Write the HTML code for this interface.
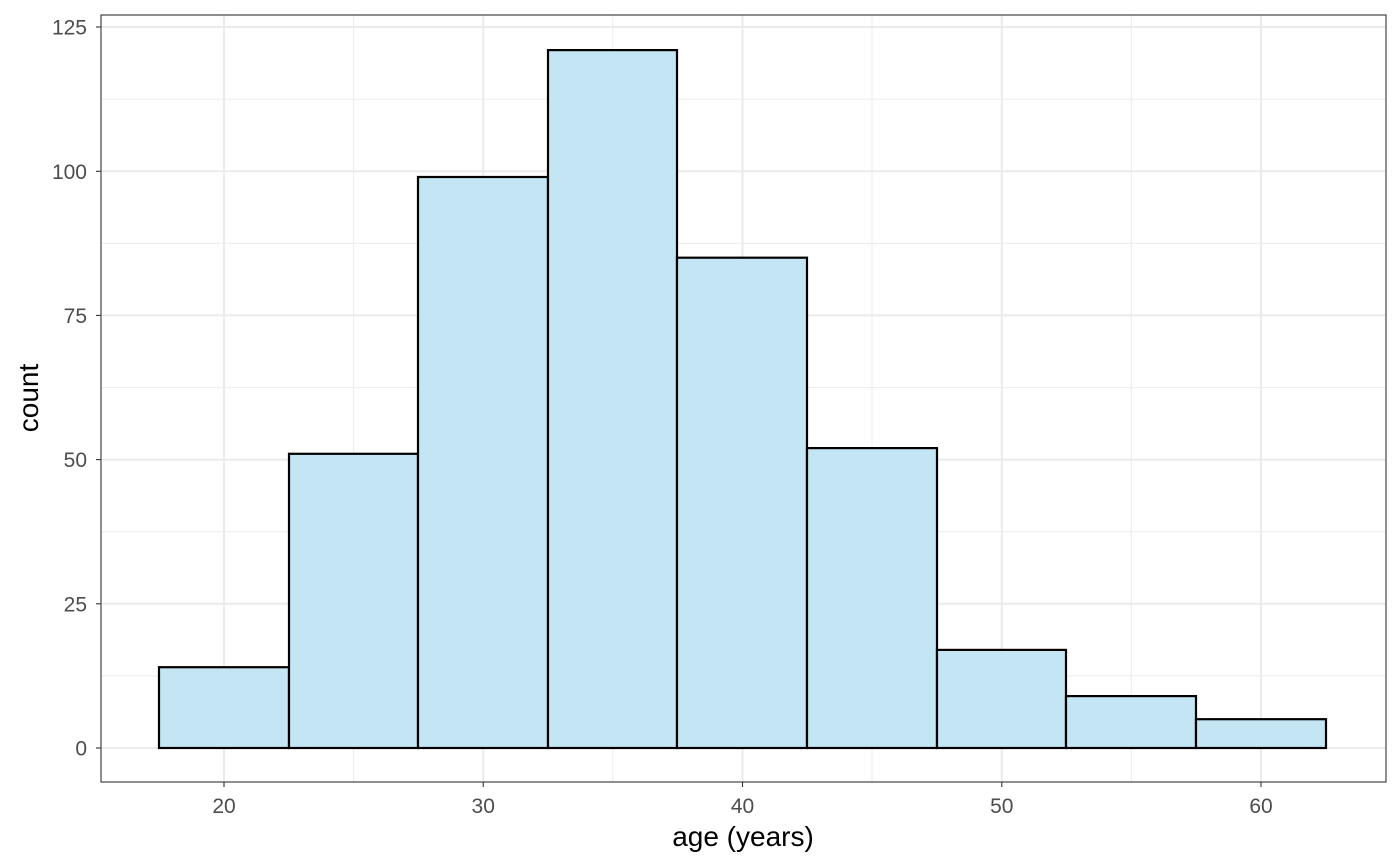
<!DOCTYPE html>
<html><head><style>body{margin:0;background:#fff}svg{display:block}</style></head><body>
<svg width="1400" height="866" xmlns="http://www.w3.org/2000/svg" font-family="Liberation Sans, sans-serif">
<rect width="1400" height="866" fill="#fff"/>
<g stroke="#ebebeb" stroke-width="1">
<line x1="353.6" y1="15" x2="353.6" y2="782"/><line x1="612.8" y1="15" x2="612.8" y2="782"/><line x1="872" y1="15" x2="872" y2="782"/><line x1="1131.3" y1="15" x2="1131.3" y2="782"/>
<line x1="101" y1="675.9" x2="1386" y2="675.9"/><line x1="101" y1="531.8" x2="1386" y2="531.8"/><line x1="101" y1="387.6" x2="1386" y2="387.6"/><line x1="101" y1="243.4" x2="1386" y2="243.4"/><line x1="101" y1="99.2" x2="1386" y2="99.2"/>
</g>
<g stroke="#ebebeb" stroke-width="2">
<line x1="224" y1="15" x2="224" y2="782"/><line x1="483.2" y1="15" x2="483.2" y2="782"/><line x1="742.5" y1="15" x2="742.5" y2="782"/><line x1="1001.8" y1="15" x2="1001.8" y2="782"/><line x1="1261" y1="15" x2="1261" y2="782"/>
<line x1="101" y1="748" x2="1386" y2="748"/><line x1="101" y1="603.8" x2="1386" y2="603.8"/><line x1="101" y1="459.6" x2="1386" y2="459.6"/><line x1="101" y1="315.4" x2="1386" y2="315.4"/><line x1="101" y1="171.3" x2="1386" y2="171.3"/><line x1="101" y1="27" x2="1386" y2="27"/>
</g>
<g fill="#c3e5f4" stroke="#000" stroke-width="2.2">
<rect x="159" y="667.2" width="130" height="80.8"/>
<rect x="289" y="453.8" width="129" height="294.2"/>
<rect x="418" y="177" width="130" height="571"/>
<rect x="548" y="50.1" width="129" height="697.9"/>
<rect x="677" y="257.7" width="130" height="490.3"/>
<rect x="807" y="448.1" width="130" height="299.9"/>
<rect x="937" y="649.9" width="129" height="98.1"/>
<rect x="1066" y="696.1" width="130" height="51.9"/>
<rect x="1196" y="719.2" width="130" height="28.8"/>
</g>
<rect x="101" y="15" width="1285" height="767" fill="none" stroke="#333" stroke-width="1.1"/>
<g stroke="#333" stroke-width="1.1">
<line x1="224" y1="782" x2="224" y2="787"/><line x1="483.2" y1="782" x2="483.2" y2="787"/><line x1="742.5" y1="782" x2="742.5" y2="787"/><line x1="1001.8" y1="782" x2="1001.8" y2="787"/><line x1="1261" y1="782" x2="1261" y2="787"/>
<line x1="96" y1="748" x2="101" y2="748"/><line x1="96" y1="603.8" x2="101" y2="603.8"/><line x1="96" y1="459.6" x2="101" y2="459.6"/><line x1="96" y1="315.4" x2="101" y2="315.4"/><line x1="96" y1="171.3" x2="101" y2="171.3"/><line x1="96" y1="27" x2="101" y2="27"/>
</g>
<g fill="#4d4d4d" font-size="21" text-anchor="middle">
<text x="224" y="813">20</text><text x="483.2" y="813">30</text><text x="742.5" y="813">40</text><text x="1001.8" y="813">50</text><text x="1261" y="813">60</text>
</g>
<g fill="#4d4d4d" font-size="21" text-anchor="end">
<text x="87" y="755.5">0</text><text x="87" y="611.3">25</text><text x="87" y="467.1">50</text><text x="87" y="322.9">75</text><text x="87" y="178.8">100</text><text x="87" y="34.5">125</text>
</g>
<text x="743" y="846" font-size="28" text-anchor="middle">age (years)</text>
<text transform="translate(38,398) rotate(-90)" font-size="28" text-anchor="middle">count</text>
</svg>
</body></html>
